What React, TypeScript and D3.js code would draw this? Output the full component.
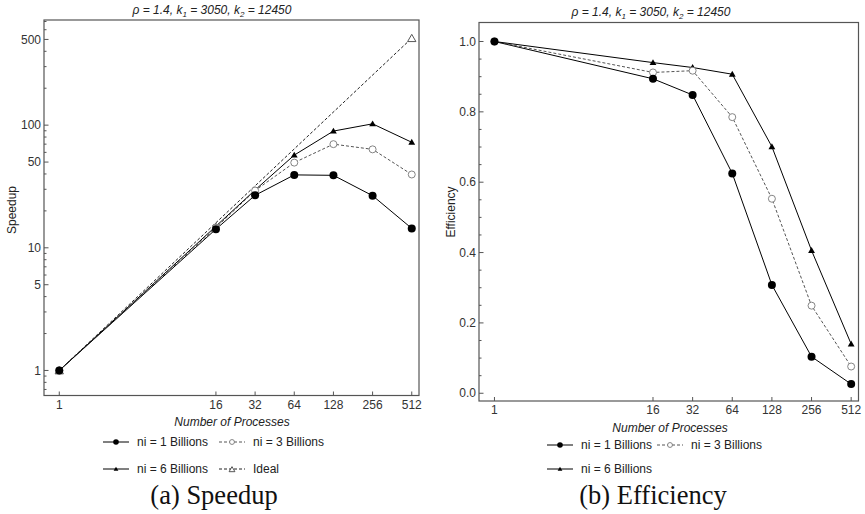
import React, { useEffect, useRef } from "react";
import * as d3 from "d3";

const procs = [1, 16, 32, 64, 128, 256, 512];
const speedup1 = [1, 14.2, 26.8, 39.3, 39.0, 26.6, 14.4];
const speedup3 = [1, 14.6, 29.3, 49.5, 70.0, 63.5, 39.6];
const speedup6 = [1, 15.0, 29.6, 57.0, 89.5, 102.5, 72.5];
const idealProcs = [1, 512];
const idealSpeedup = [1, 512];
const eff1 = [1, 0.894, 0.848, 0.625, 0.308, 0.104, 0.026];
const eff3 = [1, 0.912, 0.917, 0.785, 0.553, 0.249, 0.076];
const eff6 = [1, 0.94, 0.926, 0.907, 0.701, 0.406, 0.14];
const speedupTicks = [1, 5, 10, 50, 100, 500];
const effTicks = [0, 0.2, 0.4, 0.6, 0.8, 1.0];

const SANS = "'Liberation Sans', Arial, sans-serif";

type Series = { name: string; x: number[]; y: number[]; marker: string; dashed: boolean; color: string };

// k scales the marker (legend markers are drawn a bit smaller)
function drawMarker(g: any, kind: string, x: number, y: number, k = 1) {
  if (kind === "dot") {
    g.append("circle").attr("cx", x).attr("cy", y).attr("r", 4 * k).attr("fill", "#000");
  } else if (kind === "ring") {
    g.append("circle").attr("cx", x).attr("cy", y).attr("r", 3.5 * k)
      .attr("fill", "#fff").attr("stroke", "#777").attr("stroke-width", 0.9);
  } else if (kind === "tri") {
    g.append("path").attr("d", d3.symbol(d3.symbolTriangle, 20 * k * k)())
      .attr("transform", `translate(${x},${y + 0.5})`).attr("fill", "#000");
  } else if (kind === "bigtri") {
    g.append("path").attr("d", d3.symbol(d3.symbolTriangle, 30 * k * k)())
      .attr("transform", `translate(${x},${y + 1})`)
      .attr("fill", "#fff").attr("stroke", "#444").attr("stroke-width", 0.9);
  }
}

const App = () => {
  const ref = useRef<SVGSVGElement>(null);

  useEffect(() => {
    const svg = d3.select(ref.current);
    svg.selectAll("*").remove();

    const panel = (opt: any) => {
      const { x0, x1, y0, y1, y, yTicks, yMinor, yFmt, series, title, ylabel, legend, caption } = opt;
      const x = d3.scaleLog().base(2).domain([2 ** -0.39, 2 ** 9.185]).range([x0, x1]);
      const g = svg.append("g");

      // frame
      g.append("rect").attr("x", x0).attr("y", y0).attr("width", x1 - x0).attr("height", y1 - y0)
        .attr("fill", "none").attr("stroke", "#555").attr("stroke-width", 1.2);

      // x ticks
      procs.forEach(p => {
        g.append("line").attr("x1", x(p)).attr("x2", x(p)).attr("y1", y1).attr("y2", y1 - 4)
          .attr("stroke", "#555");
        g.append("text").attr("x", x(p)).attr("y", y1 + 13).attr("text-anchor", "middle")
          .attr("font-family", SANS).attr("font-size", 12).attr("fill", "#333").text(p);
      });

      // y ticks
      yMinor.forEach((v: number) => {
        g.append("line").attr("x1", x0).attr("x2", x0 + 2.5).attr("y1", y(v)).attr("y2", y(v))
          .attr("stroke", "#555");
      });
      yTicks.forEach((v: number) => {
        g.append("line").attr("x1", x0).attr("x2", x0 + 4.5).attr("y1", y(v)).attr("y2", y(v))
          .attr("stroke", "#555");
        g.append("text").attr("x", x0 - 3).attr("y", y(v)).attr("dy", "0.35em").attr("text-anchor", "end")
          .attr("font-family", SANS).attr("font-size", 12).attr("fill", "#333").text(yFmt(v));
      });

      // series
      const line = d3.line<[number, number]>().x(d => x(d[0])).y(d => y(d[1]));
      series.forEach((s: Series) => {
        const pts = s.x.map((v, i) => [v, s.y[i]] as [number, number]);
        g.append("path").attr("d", line(pts)).attr("fill", "none").attr("stroke", s.color)
          .attr("stroke-width", 1).attr("stroke-dasharray", s.dashed ? "3,2" : null);
      });
      series.slice().reverse().forEach((s: Series) => {
        s.x.forEach((v, i) => drawMarker(g, s.marker, x(v), y(s.y[i])));
      });

      // title
      const t = g.append("text").attr("x", title.x).attr("y", title.y).attr("text-anchor", "middle")
        .attr("font-family", SANS).attr("font-size", 12).attr("font-style", "italic").attr("fill", "#222");
      t.append("tspan").text("\u03c1 = 1.4, k");
      t.append("tspan").attr("font-size", 8).attr("dy", 3).text("1");
      t.append("tspan").attr("dy", -3).text(" = 3050, k");
      t.append("tspan").attr("font-size", 8).attr("dy", 3).text("2");
      t.append("tspan").attr("dy", -3).text(" = 12450");

      // axis labels
      g.append("text").attr("x", opt.xlabel.x).attr("y", opt.xlabel.y).attr("text-anchor", "middle")
        .attr("font-family", SANS).attr("font-size", 12).attr("font-style", "italic").attr("fill", "#222")
        .text("Number of Processes");
      g.append("text").attr("transform", `translate(${ylabel.x},${ylabel.y}) rotate(-90)`)
        .attr("text-anchor", "middle").attr("font-family", SANS).attr("font-size", 12).attr("fill", "#222")
        .text(ylabel.text);

      // legend
      legend.forEach((l: any) => {
        const s: Series = series[l.i];
        g.append("line").attr("x1", l.x).attr("x2", l.x + 26).attr("y1", l.y).attr("y2", l.y)
          .attr("stroke", s.color).attr("stroke-dasharray", s.dashed ? "3,2" : null);
        drawMarker(g, s.marker, l.x + 13, l.y, 0.7);
        g.append("text").attr("x", l.x + 34).attr("y", l.y).attr("dy", "0.35em")
          .attr("font-family", SANS).attr("font-size", 12).attr("fill", "#222").text(s.name);
      });

      // caption
      g.append("text").attr("x", caption.x).attr("y", caption.y).attr("text-anchor", "middle")
        .attr("font-family", "'Liberation Serif', 'Times New Roman', serif").attr("font-size", 26.5)
        .attr("fill", "#111").text(caption.text);
    };

    const logMinor: number[] = [];
    [0.1, 1, 10, 100].forEach(d => d3.range(1, 10).forEach(m => {
      const v = m * d;
      if (v >= 0.63 && v <= 710 && !speedupTicks.includes(v)) logMinor.push(v);
    }));

    panel({
      x0: 44, x1: 419, y0: 20, y1: 395.5,
      y: d3.scaleLog().domain([0.625, 720]).range([395.5, 20]),
      yTicks: speedupTicks, yMinor: logMinor, yFmt: (v: number) => String(v),
      series: [
        { name: "ni = 1 Billions", x: procs, y: speedup1, marker: "dot", dashed: false, color: "#000" },
        { name: "ni = 3 Billions", x: procs, y: speedup3, marker: "ring", dashed: true, color: "#555" },
        { name: "ni = 6 Billions", x: procs, y: speedup6, marker: "tri", dashed: false, color: "#000" },
        { name: "Ideal", x: idealProcs, y: idealSpeedup, marker: "bigtri", dashed: true, color: "#222" },
      ],
      title: { x: 212, y: 14 },
      xlabel: { x: 232, y: 426 },
      ylabel: { x: 16, y: 210, text: "Speedup" },
      legend: [
        { i: 0, x: 103, y: 442 }, { i: 1, x: 219, y: 442 },
        { i: 2, x: 103, y: 469 }, { i: 3, x: 219, y: 469 },
      ],
      caption: { x: 214, y: 504, text: "(a) Speedup" },
    });

    panel({
      x0: 479, x1: 858.5, y0: 22.5, y1: 401,
      y: d3.scaleLinear().domain([-0.022, 1.054]).range([401, 22.5]),
      yTicks: effTicks,
      yMinor: d3.range(0, 21).map(i => i * 0.05).filter(v => Math.round(v * 100) % 20 !== 0),
      yFmt: d3.format(".1f"),
      series: [
        { name: "ni = 1 Billions", x: procs, y: eff1, marker: "dot", dashed: false, color: "#000" },
        { name: "ni = 3 Billions", x: procs, y: eff3, marker: "ring", dashed: true, color: "#555" },
        { name: "ni = 6 Billions", x: procs, y: eff6, marker: "tri", dashed: false, color: "#000" },
      ],
      title: { x: 651, y: 16 },
      xlabel: { x: 670, y: 432 },
      ylabel: { x: 455, y: 212, text: "Efficiency" },
      legend: [
        { i: 0, x: 547, y: 445 }, { i: 1, x: 657, y: 445 },
        { i: 2, x: 547, y: 469 },
      ],
      caption: { x: 653, y: 504, text: "(b) Efficiency" },
    });
  }, []);

  return (
    <svg ref={ref} width={865} height={514}
      style={{ position: "absolute", left: 0, top: 0, background: "#fff" }} />
  );
};

export default App;
